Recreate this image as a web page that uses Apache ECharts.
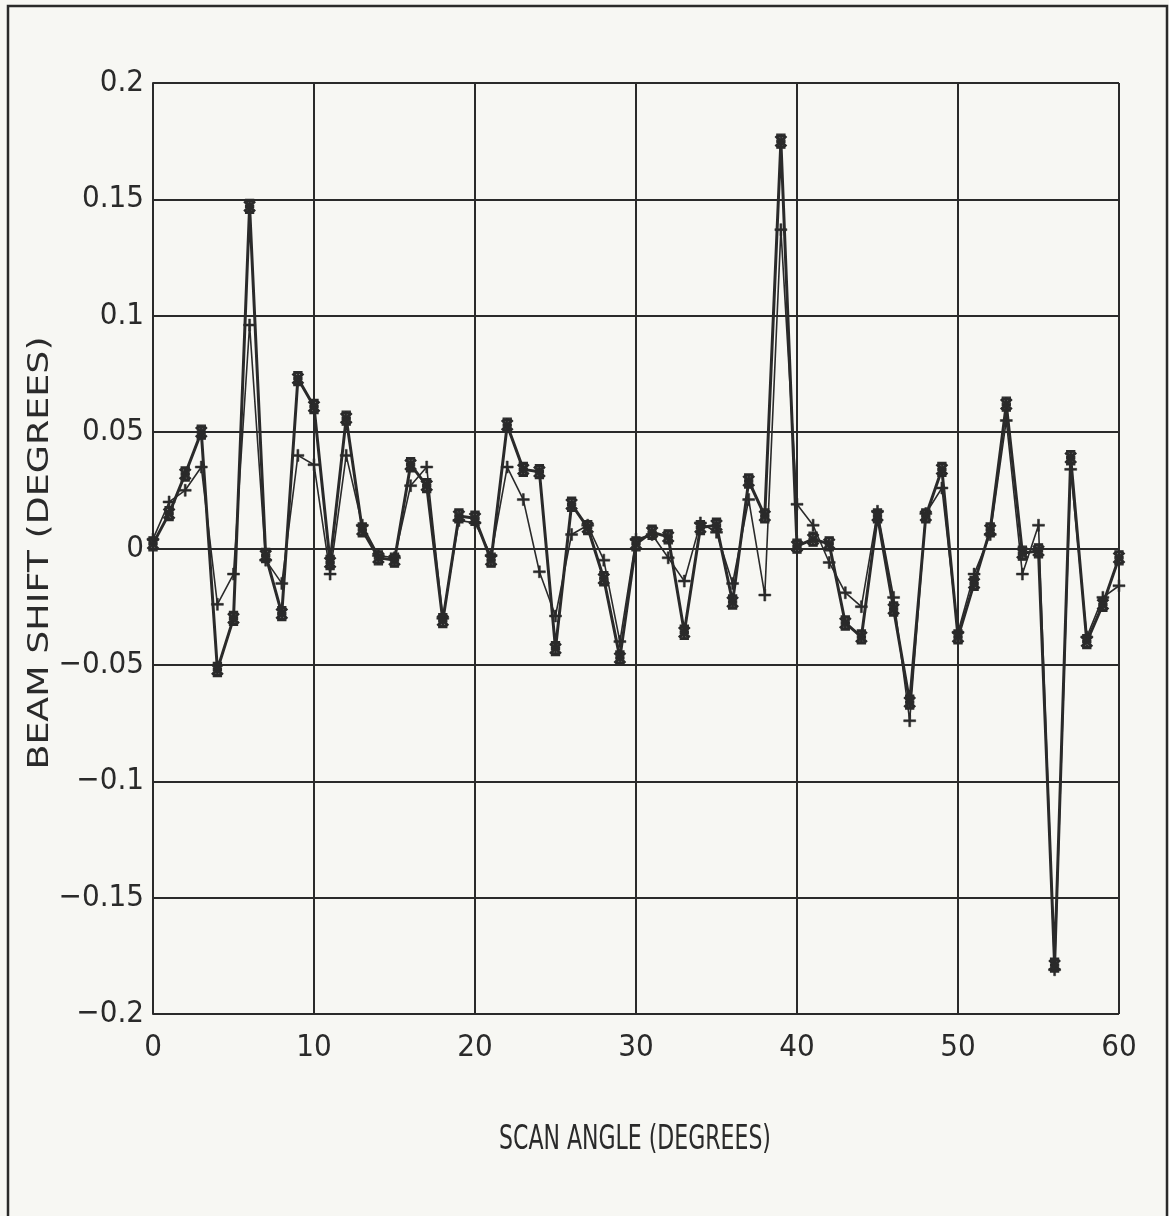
<!DOCTYPE html>
<html>
<head>
<meta charset="utf-8">
<script src="https://cdn.jsdelivr.net/npm/echarts@6/dist/echarts.min.js"></script>
<style>
html,body{margin:0;padding:0;background:#f7f7f3;}
#chart{width:1169px;height:1216px;}
</style>
</head>
<body>
<div id="chart"></div>
<script>
// Scan angle (degrees)
var angles = [0,1,2,3,4,5,6,7,8,9,10,11,12,13,14,15,16,17,18,19,20,21,22,23,24,25,26,27,28,29,30,
  31,32,33,34,35,36,37,38,39,40,41,42,43,44,45,46,47,48,49,50,51,52,53,54,55,56,57,58,59,60];
// Beam shift, star-marker series (thick line)
var shiftStar = [0.002,0.015,0.032,0.050,-0.052,-0.030,0.147,-0.003,-0.028,0.073,0.061,
  -0.006,0.056,0.008,-0.004,-0.005,0.036,0.027,-0.031,0.014,0.013,
  -0.005,0.053,0.034,0.033,-0.043,0.019,0.009,-0.013,-0.047,0.002,
  0.007,0.005,-0.036,0.009,0.010,-0.023,0.029,0.014,0.175,0.001,
  0.004,0.002,-0.032,-0.038,0.014,-0.026,-0.066,0.014,0.034,-0.038,
  -0.015,0.008,0.062,-0.002,-0.001,-0.179,0.039,-0.040,-0.024,-0.004];
// Beam shift, plus-marker series (thin line)
var shiftPlus = [0.004,0.020,0.025,0.035,-0.024,-0.011,0.096,-0.005,-0.015,0.040,0.036,
  -0.011,0.040,0.010,-0.003,-0.004,0.027,0.035,-0.030,0.012,0.011,
  -0.003,0.035,0.021,-0.010,-0.029,0.006,0.010,-0.005,-0.040,0.004,
  0.006,-0.004,-0.014,0.011,0.007,-0.015,0.021,-0.020,0.137,0.019,
  0.010,-0.006,-0.019,-0.025,0.016,-0.021,-0.074,0.015,0.026,-0.036,
  -0.011,0.006,0.055,-0.011,0.010,-0.181,0.034,-0.038,-0.021,-0.016];
var xTitle = 'SCAN ANGLE (DEGREES)';
var yTitle = 'BEAM SHIFT (DEGREES)';

function pairs(xs, ys){ return xs.map(function(x,i){ return [x, ys[i]]; }); }

var ink = '#2a2a2a';
var tickFont = '"Liberation Sans Narrow", "DejaVu Sans Condensed", sans-serif';
var starPath = 'path://M9,0 L11,0 L11,20 L9,20 Z M4,2 L18,16 L16,18 L2,4 Z M16,2 L18,4 L4,18 L2,16 Z M4,0 L16,0 L16,3 L4,3 Z M4,17 L16,17 L16,20 L4,20 Z M4,8.5 L16,8.5 L16,11.5 L4,11.5 Z';
var plusPath = 'path://M0,5 L12,5 L12,7 L0,7 Z M5,0 L7,0 L7,12 L5,12 Z';

var chart = echarts.init(document.getElementById('chart'), null, {renderer:'canvas'});
chart.setOption({
  backgroundColor: '#f7f7f3',
  animation: false,
  graphic: [
    {
      type: 'rect', shape: {x: 8, y: 6, width: 1159, height: 1240},
      style: {fill: 'none', stroke: ink, lineWidth: 2.5}, silent: true, z: -1
    },
    {
      type: 'text', x: 41, y: 553, rotation: Math.PI / 2, scaleX: 1.3,
      style: {text: yTitle, font: '28px "DejaVu Sans"', fill: ink, align: 'center', verticalAlign: 'middle'},
      silent: true
    },
    {
      type: 'text', x: 635, y: 1140, scaleX: 0.72,
      style: {text: xTitle, font: '34px "DejaVu Sans Condensed"', fill: ink, align: 'center', verticalAlign: 'middle'},
      silent: true
    }
  ],
  grid: {left: 153, right: 50, top: 83, bottom: 202, containLabel: false},
  xAxis: {
    type: 'value', min: 0, max: 60, interval: 10,
    axisLine: {show: true, lineStyle: {color: ink, width: 2}},
    axisTick: {show: false},
    axisLabel: {fontFamily: tickFont, fontSize: 31, color: ink, margin: 18},
    splitLine: {show: true, lineStyle: {color: ink, width: 2}}
  },
  yAxis: {
    type: 'value', min: -0.2, max: 0.2, interval: 0.05,
    axisLine: {show: true, lineStyle: {color: ink, width: 2}},
    axisTick: {show: false},
    axisLabel: {fontFamily: tickFont, fontSize: 31, color: ink, margin: 9,
      formatter: function(v){ return String(Math.round(v*1000)/1000).replace('-', '\u2212'); }},
    splitLine: {show: true, lineStyle: {color: ink, width: 2}}
  },
  series: [
    {
      type: 'line', data: pairs(angles, shiftPlus),
      symbol: plusPath, symbolSize: 12, showAllSymbol: true,
      lineStyle: {color: ink, width: 1.6},
      itemStyle: {color: ink, borderColor: ink, borderWidth: 0.5}, z: 3
    },
    {
      type: 'line', data: pairs(angles, shiftStar),
      symbol: starPath, symbolSize: [11, 14], showAllSymbol: true,
      lineStyle: {color: ink, width: 3},
      itemStyle: {color: ink, borderColor: ink, borderWidth: 1.2}, z: 4
    }
  ]
});
</script>
</body>
</html>
